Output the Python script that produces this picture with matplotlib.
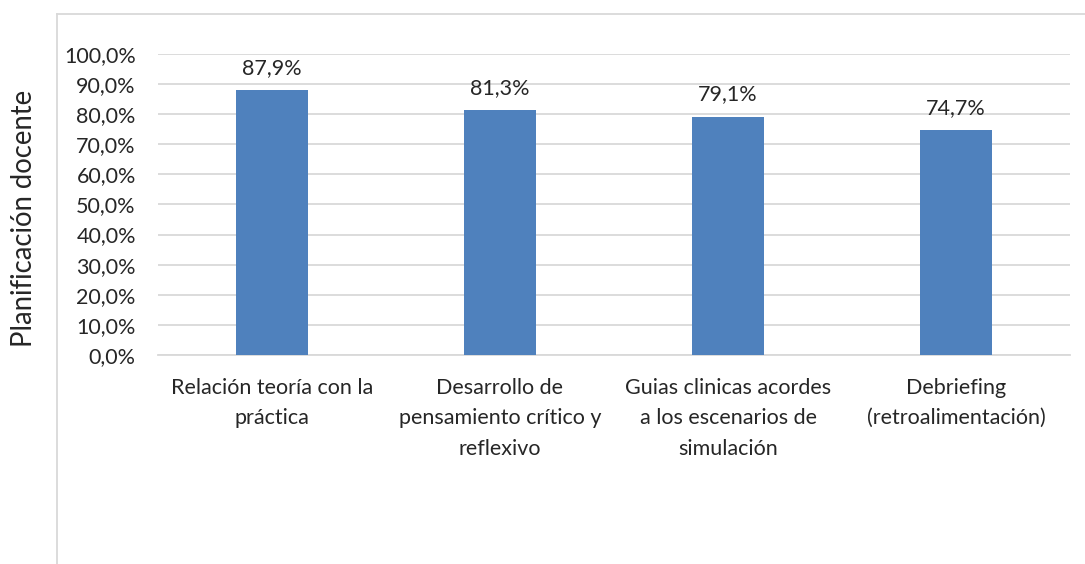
import matplotlib
matplotlib.use("Agg")
import matplotlib.pyplot as plt
from matplotlib.lines import Line2D
from matplotlib.ticker import FuncFormatter

plt.rcParams['font.family'] = ['Lato', 'DejaVu Sans']

# Data
categories = ["Relación teoría con la\npráctica",
              "Desarrollo de\npensamiento crítico y\nreflexivo",
              "Guias clinicas acordes\na los escenarios de\nsimulación",
              "Debriefing\n(retroalimentación)"]
values = [87.9, 81.3, 79.1, 74.7]
ylabel = "Planificación docente"

bar_color = "#4F81BD"
grid_color = "#D9D9D9"

fig = plt.figure(figsize=(10.85, 5.64), dpi=100)
ax = fig.add_axes([0.1456, 0.3706, 0.8406, 0.5337])

x = range(len(categories))
bars = ax.bar(x, values, width=0.316, color=bar_color, zorder=3)

for b, v in zip(bars, values):
    ax.annotate(("%.1f%%" % v).replace(".", ","),
                (b.get_x() + b.get_width() / 2, v),
                xytext=(0, 9), textcoords="offset points",
                ha="center", va="bottom", fontsize=15.5, color="#262626")

ax.set_ylim(0, 100)
ax.set_xlim(-0.5, len(categories) - 0.5)
ax.set_yticks(range(0, 101, 10))
ax.yaxis.set_major_formatter(FuncFormatter(lambda v, p: ("%.1f%%" % v).replace(".", ",")))
ax.set_xticks(list(x))
ax.set_xticklabels(categories, linespacing=1.65)
ax.tick_params(axis="y", length=0, pad=16, labelsize=15.5, labelcolor="#262626")
ax.tick_params(axis="x", length=0, pad=16.5, labelsize=15.5, labelcolor="#262626")
ax.grid(axis="y", color=grid_color, linewidth=1.3, zorder=0)
for s in ["top", "right", "left"]:
    ax.spines[s].set_visible(False)
ax.spines["bottom"].set_color(grid_color)
ax.spines["bottom"].set_linewidth(1.3)

fig.text(0.022, 1 - 218 / 564, ylabel, rotation=90, ha="center", va="center",
         fontsize=19.8, color="#262626")

# outer chart frame (only left and top edges visible)
fig.add_artist(Line2D([0.0525, 0.0525], [0.0, 0.975], color=grid_color, linewidth=1.3))
fig.add_artist(Line2D([0.0525, 1.0], [0.975, 0.975], color=grid_color, linewidth=1.3))

fig.savefig("out.png", dpi=100)
